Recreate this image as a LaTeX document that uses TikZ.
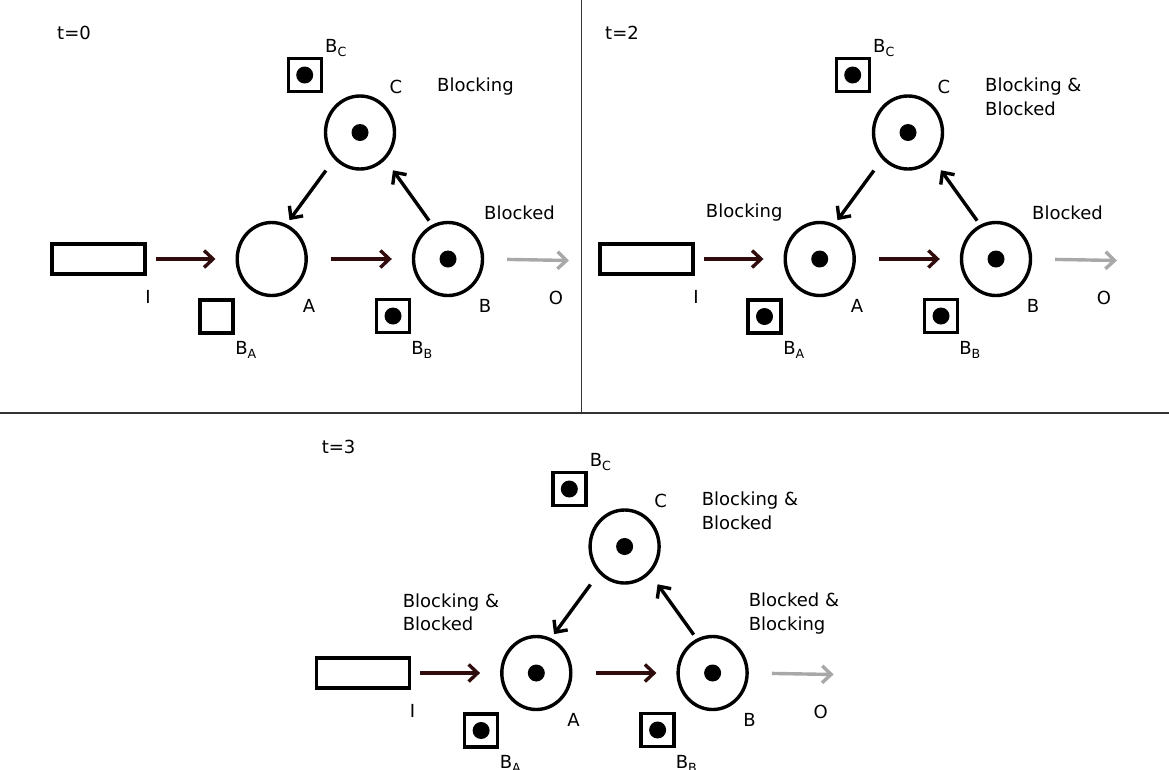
\documentclass[tikz,border=0pt]{standalone}
\usepackage{fontspec}
\setmainfont{DejaVu Sans}
\usepackage{tikz}
\usetikzlibrary{positioning,arrows.meta,shapes.geometric}
\definecolor{FlowDark}{RGB}{48,12,12}
\definecolor{OutGray}{RGB}{168,168,168}

\begin{document}
\begin{tikzpicture}[
x=1pt, y=-1pt,
font={\fontsize{18}{23.3}\selectfont},
placenode/.style={draw, ellipse, line width=3.4pt, minimum width=69pt, minimum height=73pt, inner sep=0pt},
bufbox/.style={draw, line width=3.4pt, minimum width=33pt, minimum height=33pt, inner sep=0pt},
sourcebox/.style={draw, line width=3.4pt, minimum width=93pt, minimum height=30pt, inner sep=0pt},
tokendot/.style={circle, fill, minimum size=17pt, inner sep=0pt},
lbl/.style={inner sep=0pt},
statetext/.style={inner sep=0pt, align=left},
flowarrow/.style={-{Straight Barb[length=9pt, width=17pt]}, line width=3.4pt, FlowDark},
ringarrow/.style={-{Straight Barb[length=9pt, width=17pt]}, line width=3.4pt, black},
outarrow/.style={-{Straight Barb[length=9pt, width=17pt]}, line width=3.4pt, OutGray},
divider/.style={line width=1.6pt, black!80}
]
\useasboundingbox (0,0) rectangle (1169,769);

\foreach \px/\py/\tm in {0/0/0, 548/0/2, 264.6/414/3} {
\begin{scope}[shift={(\px,\py)}, name prefix=p\tm-]
\node[lbl] (time) at (74,33) {t=\tm};
\node[sourcebox] (I) at (98.3,259) {};
\node[placenode] (A) at (271.7,259) {};
\node[placenode] (B) at (448,259) {};
\node[placenode] (C) at (360,132.5) {};
\node[bufbox] (bA) at (216.5,316.5) {};
\node[bufbox] (bB) at (393,316) {};
\node[bufbox] (bC) at (304.7,75) {};
\coordinate (out) at (569,260.5);
\foreach \n in {B,C,bB,bC} \node[tokendot] (dot\n) at (\n) {};
\ifnum\tm>0
\node[tokendot] (dotA) at (A) {};
\node[tokendot] (dotbA) at (bA) {};
\fi
\node[lbl] (lI) at (148,297) {I};
\node[lbl] (lA) at (309,306) {A};
\node[lbl] (lB) at (485,306) {B};
\node[lbl] (lC) at (396,87) {C};
\node[lbl] (lO) at (556,298) {O};
\node[lbl] (lbA) at (246,350) {B\textsubscript{A}};
\node[lbl] (lbB) at (422,350) {B\textsubscript{B}};
\node[lbl] (lbC) at (336,48) {B\textsubscript{C}};
\draw[flowarrow, shorten <=9pt, shorten >=20pt] (I) -- (A);
\draw[flowarrow, shorten <=23pt, shorten >=20pt] (A.east) -- (B.west);
\draw[outarrow, shorten <=23pt] (B.east) -- (out);
\draw[ringarrow, shorten <=14pt, shorten >=5pt] (C.226) -- (A.67);
\draw[ringarrow, shorten <=5pt, shorten >=13pt] (B.115) -- (C.313);
\end{scope}
}

\node[statetext, anchor=north west] (p0-sC) at ([shift={(77,-54.5)}]p0-C.center) {Blocking};
\node[statetext, anchor=south west] (p0-sB) at ([shift={(36,-39)}]p0-B.center) {Blocked};
\node[statetext, anchor=north west] (p2-sC) at ([shift={(77,-54.5)}]p2-C.center) {Blocking \&\\Blocked};
\node[statetext, anchor=south east] (p2-sA) at ([shift={(-37,-38)}]p2-A.center) {Blocking};
\node[statetext, anchor=south west] (p2-sB) at ([shift={(36,-39)}]p2-B.center) {Blocked};
\node[statetext, anchor=north west] (p3-sC) at ([shift={(77,-54.5)}]p3-C.center) {Blocking \&\\Blocked};
\node[statetext, anchor=south east] (p3-sA) at ([shift={(-37,-42)}]p3-A.center) {Blocking \&\\Blocked};
\node[statetext, anchor=south west] (p3-sB) at ([shift={(36,-39)}]p3-B.center) {Blocked \&\\Blocking};

\draw[divider] (581.5,0) -- (581.5,413);
\draw[divider] (0,413) -- (1169,413);
\end{tikzpicture}
\end{document}
